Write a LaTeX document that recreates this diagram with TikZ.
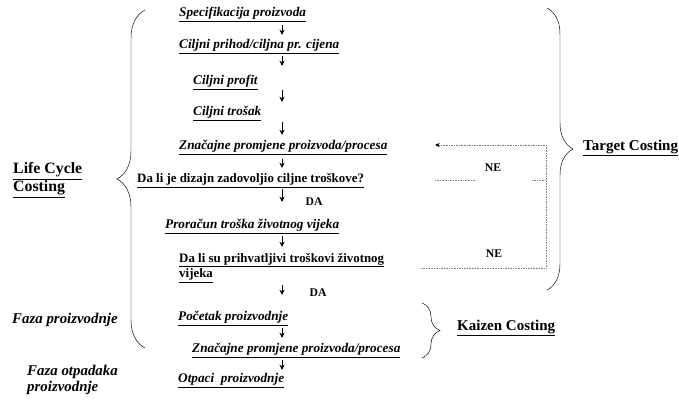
\documentclass[tikz,border=0pt]{standalone}
\usepackage{fontspec}
\setmainfont{Liberation Serif}
\usetikzlibrary{arrows.meta, decorations.pathreplacing}

\begin{document}
\begin{tikzpicture}[x=0.03cm,y=-0.03cm]
	\tikzstyle{step1} = [anchor=west,inner sep=0pt,text height=8pt,text depth=3pt,font=\fontsize{11.3}{13}\selectfont\bfseries\itshape]
	\tikzstyle{ask} = [anchor=west,inner sep=0pt,align=left,font=\fontsize{11}{13.6}\selectfont\bfseries]
	\tikzstyle{side} = [anchor=west,inner sep=0pt,align=left,font=\fontsize{12.8}{13.5}\selectfont\bfseries]
	\tikzstyle{small} = [inner sep=0pt,font=\fontsize{10}{12}\selectfont\bfseries]
	\tikzstyle{arr} = [-{Stealth[length=4.5pt,width=4.3pt]},semithick]
	\tikzstyle{dots} = [densely dotted,gray,thin]
	\tikzstyle{brc} = [decorate,thin]
	\useasboundingbox (0,0) rectangle (679,411);

	% main column
	\node[step1] (n1) at (179,14) {\underline{Specifikacija proizvoda}};
	\node[step1] (n2) at (179,46) {\underline{Ciljni prihod/ciljna pr. cijena}};
	\node[step1] (n3) at (193,82) {\underline{Ciljni profit}};
	\node[step1] (n4) at (193,113) {\underline{Ciljni trošak}};
	\node[step1] (n5) at (179,147) {\underline{Značajne promjene proizvoda/procesa}};
	\node[ask,text height=8pt,text depth=3pt] (n6) at (137,180) {\underline{Da li je dizajn zadovoljio ciljne troškove?}};
	\node[step1] (n7) at (165,226) {\underline{Proračun troška životnog vijeka}};
	\node[ask] (n8) at (179,268) {\underline{Da li su prihvatljivi troškovi životnog}\\\underline{vijeka}};
	\node[step1] (n9) at (178,318) {\underline{Početak proizvodnje}};
	\node[step1] (n10) at (192,350) {\underline{Značajne promjene proizvoda/procesa}};
	\node[step1] (n11) at (178,380) {\underline{Otpaci\ \ proizvodnje}};

	\node[small] (da1) at (314,202) {DA};
	\node[small] (da2) at (318,293) {DA};
	\node[small] (ne1) at (493,168) {NE};
	\node[small] (ne2) at (494,254) {NE};

	% labels left and right
	\node[side,font=\fontsize{13.5}{12.5}\selectfont\bfseries] (lcc) at (13,180) {\underline{Life Cycle}\\\underline{Costing}};
	\node[side,font=\fontsize{12.7}{14}\selectfont\bfseries\itshape] (fp) at (12,320) {Faza proizvodnje};
	\node[side,font=\fontsize{12.7}{14}\selectfont\bfseries\itshape] (fop) at (27,380) {Faza otpadaka\\proizvodnje};
	\node[side] (tc) at (583,148) {\underline{Target Costing}};
	\node[side] (kc) at (457,328) {\underline{Kaizen Costing}};

	% arrows down the column (gaps in px from the node centres)
	\coordinate (ax) at (282,0);
	\foreach \a/\b/\s/\e in {n1/n2/11/11, n2/n3/10/16, n3/n4/8/11, n4/n5/9/12, n5/n6/12/12,
		n6/n7/9/24, n7/n8/10/21, n8/n9/17/23, n9/n10/10/12, n10/n11/10/10}
		\draw[arr,shorten <=\s*0.03cm,shorten >=\e*0.03cm] (\a.center -| ax)--(\b.center -| ax);

	% NE loops
	\coordinate (tr) at (546,145);
	\coordinate (br) at (546,268);
	\coordinate (bl) at (421,268);
	\coordinate (fb) at (435,145);
	\coordinate (m1) at (435,180);
	\coordinate (m2) at (476,180);
	\coordinate (m3) at (532,180);
	\coordinate (m4) at (546,180);
	\draw[dots,-{Stealth[length=4pt,width=3.5pt,black]}] (bl)--(br)--(tr)--(fb);
	\draw[dots] (m1)--(m2);
	\draw[dots] (m3)--(m4);

	% braces
	\draw[brc,decoration={brace,amplitude=28*0.03cm}] (145,348)--(145,10);
	\draw[brc,decoration={brace,amplitude=26*0.03cm}] (547,8)--(547,290);
	\draw[brc,decoration={brace,amplitude=18*0.03cm}] (422,303)--(422,358);
\end{tikzpicture}
\end{document}
